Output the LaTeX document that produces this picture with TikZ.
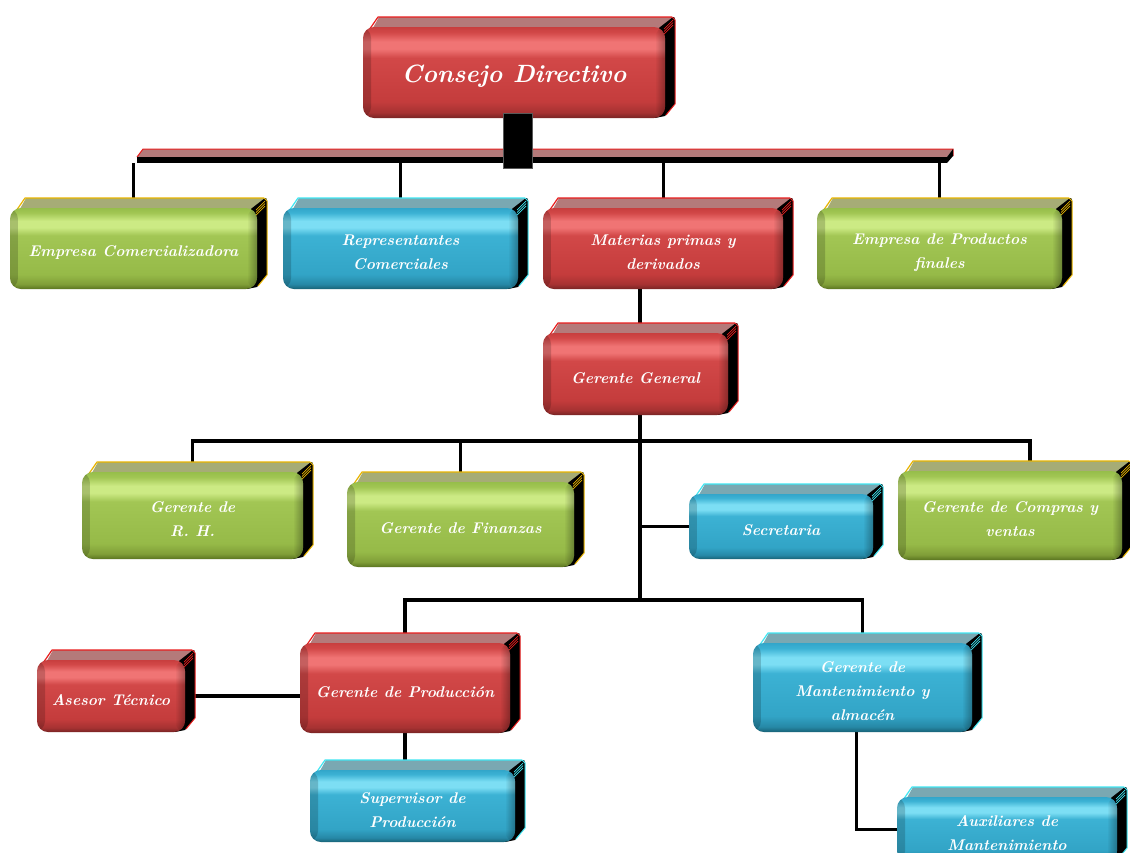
\documentclass[tikz,border=0pt]{standalone}
\usepackage{fontspec}
\usetikzlibrary{calc,fadings}

% bevel (top strip) and rim colours
\definecolor{rTop}{HTML}{B47A7A}
\definecolor{rEdge}{HTML}{E81E1E}
\definecolor{gTop}{HTML}{A6AC76}
\definecolor{gEdge}{HTML}{E8B400}
\definecolor{bTop}{HTML}{7AA8B2}
\definecolor{bEdge}{HTML}{40E6F2}

% front face colours, top to bottom
\definecolor{r0}{HTML}{C83E3E}\definecolor{r1}{HTML}{F07474}\definecolor{r2}{HTML}{D24848}
\definecolor{r3}{HTML}{C43C3C}\definecolor{r4}{HTML}{A63232}\definecolor{r5}{HTML}{782424}
\definecolor{g0}{HTML}{96BE4A}\definecolor{g1}{HTML}{CCEA84}\definecolor{g2}{HTML}{A2C654}
\definecolor{g3}{HTML}{96BA48}\definecolor{g4}{HTML}{809E38}\definecolor{g5}{HTML}{5A7420}
\definecolor{b0}{HTML}{32A6CA}\definecolor{b1}{HTML}{7CDEF4}\definecolor{b2}{HTML}{3CB2D4}
\definecolor{b3}{HTML}{32A4C6}\definecolor{b4}{HTML}{2688A6}\definecolor{b5}{HTML}{186276}

\pgfdeclareverticalshading{rface}{100bp}{color(0bp)=(r5); color(25bp)=(r5); color(28bp)=(r4);
  color(34bp)=(r3); color(58bp)=(r2); color(63bp)=(r1); color(67bp)=(r1); color(72bp)=(r2);
  color(75bp)=(r0); color(100bp)=(r0)}
\pgfdeclareverticalshading{gface}{100bp}{color(0bp)=(g5); color(25bp)=(g5); color(28bp)=(g4);
  color(34bp)=(g3); color(58bp)=(g2); color(63bp)=(g1); color(67bp)=(g1); color(72bp)=(g2);
  color(75bp)=(g0); color(100bp)=(g0)}
\pgfdeclareverticalshading{bface}{100bp}{color(0bp)=(b5); color(25bp)=(b5); color(28bp)=(b4);
  color(34bp)=(b3); color(58bp)=(b2); color(63bp)=(b1); color(67bp)=(b1); color(72bp)=(b2);
  color(75bp)=(b0); color(100bp)=(b0)}

\tikzfading[name=fadeL, left color=transparent!0, right color=transparent!100]
\tikzfading[name=fadeR, left color=transparent!100, right color=transparent!0]

\pgfdeclarelayer{paper}
\pgfdeclarelayer{links}
\pgfsetlayers{paper,links,main}

\newcommand\lblfont{\fontsize{15.5}{24}\selectfont\bfseries\itshape\addfontfeature{FakeStretch=1.1}}
\newcommand\bigfont{\fontsize{25}{30}\selectfont\bfseries\itshape\addfontfeature{FakeStretch=1.08}}

\tikzset{
  face/.style={rectangle, rounded corners=11pt, inner sep=0pt, shade, shading=#1face,
    path picture={
      \fill[black, fill opacity=0.18, path fading=fadeL]
        (path picture bounding box.south west) rectangle ([xshift=8pt]path picture bounding box.north west);
      \fill[black, fill opacity=0.3, path fading=fadeR]
        ([xshift=-10pt]path picture bounding box.south east) rectangle (path picture bounding box.north east);
    }},
  lbl/.style={text=white, align=center, inner sep=0pt, font=\lblfont},
  conn/.style={draw=black, line width=3.5pt},
  thinconn/.style={draw=black, line width=3pt},
}

% box with bevelled top strip and dark right side:
% #1 name, #2 tone (r/g/b), #3 x1, #4 y1, #5 x2, #6 y2 (front face), #7 label
\newcommand\obox[7]{%
  \fill[#2Top] (#3+6,#4+8) -- (#3+16,#4-10) -- (#5+10,#4-10) -- (#5,#4+8) -- cycle;
  \draw[#2Edge, line width=1.2pt, line join=round] (#3+4,#4+6) -- (#3+15,#4-10) -- (#5+7,#4-10);
  \fill[black] (#5-10,#4+4) -- (#5+8,#4-10) -- (#5+10,#4-8) -- (#5+10,#6-14) -- (#5,#6-2) -- (#5-10,#6) -- cycle;
  \draw[#2Edge, line width=1pt, line join=round] (#5+7,#4-10) -- (#5+10,#4-7) -- (#5+10,#6-14) -- (#5+1,#6-3);
  \foreach \k in {0,2.5,5} \draw[#2Edge, line width=0.7pt] (#5-1,#4+2+\k) -- ++(9,-9);
  \node[face=#2, minimum width={#5-#3}, minimum height={#6-#4}] (#1) at ({(#3+#5)/2},{(#4+#6)/2}) {};
  \node[lbl] (#1-t) at ([yshift=-4pt]#1.center) {#7};
}

\begin{document}
\begin{tikzpicture}[x=1pt, y=-1pt]
\clip (0,0) rectangle (1130,852);
\begin{pgfonlayer}{paper}
  \fill[white] (0,0) rectangle (1130,852);
\end{pgfonlayer}

\coordinate (trunk) at (640,600);
\coordinate (hub) at (640,441);

% boxes
\obox{cd}{r}{363}{27}{665}{118}{\bigfont Consejo Directivo}
\obox{ec}{g}{10}{208}{257}{289}{Empresa Comercializadora}
\obox{rc}{b}{283}{208}{518}{289}{Representantes\\Comerciales}
\obox{mp}{r}{543}{208}{783}{289}{Materias primas y\\derivados}
\obox{ep}{g}{817}{208}{1062}{289}{Empresa de Productos\\finales}
\obox{gg}{r}{543}{333}{728}{415}{Gerente General}
\obox{rh}{g}{82}{472}{303}{559}{Gerente de\\R. H.}
\obox{gf}{g}{347}{482}{574}{567}{Gerente de Finanzas}
\obox{sec}{b}{689}{494}{873}{559}{Secretaria}
\obox{gc}{g}{898}{471}{1122}{560}{Gerente de Compras y\\ventas}
\obox{gp}{r}{300}{643}{510}{733}{Gerente de Producción}
\obox{at}{r}{37}{660}{185}{732}{Asesor Técnico}
\obox{sp}{b}{310}{770}{515}{842}{Supervisor de\\Producción}
\obox{gm}{b}{753}{643}{972}{732}{Gerente de\\Mantenimiento y\\almacén}
\obox{am}{b}{897}{797}{1117}{862}{Auxiliares de\\Mantenimiento}

% top distribution bar
\fill[rTop] (137,157) -- (143,149) -- (953,149) -- (947,157) -- cycle;
\draw[rEdge, line width=1pt] (137,157) -- (143,149) -- (953,149) -- (953,156);
\node[fill=black, minimum width=810, minimum height=6, inner sep=0pt] (bar) at (542,160) {};
\fill[black] (947,157) -- (953,149) -- (953,156) -- (947,163) -- cycle;
\node[fill=black, draw=black!65, line width=0.8pt, minimum width=29, minimum height=55, inner sep=0pt] (stem) at (517.5,140.5) {};

% connectors
\begin{pgfonlayer}{links}
  \foreach \n in {ec,rc,mp,ep} \draw[thinconn] (\n.north) -- (\n.north |- bar.south);
  \draw[conn] (mp.south -| trunk) -- (trunk);
  \draw[conn] (rh.north) |- (hub) -| ($(gc.north)+(20,0)$);
  \draw[conn] (gf.north) -- (gf.north |- hub);
  \draw[conn] (sec.west) -- (sec.west -| trunk);
  \draw[conn] (gp.north) |- (trunk) -| (gm.north);
  \draw[conn] (at.east) -- (at.east -| gp.west);
  \draw[conn] (gp.south) -- (gp.south |- sp.north);
  \draw[conn] ($(gm.south)+(-6,0)$) |- (am.west);
\end{pgfonlayer}
\end{tikzpicture}
\end{document}
